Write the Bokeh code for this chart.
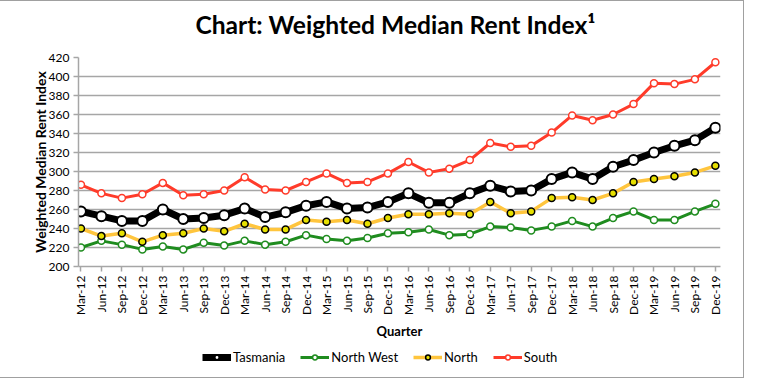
import math
from bokeh.plotting import figure
from bokeh.layouts import column
from bokeh.models import Range1d, FixedTicker, Legend, LegendItem, ColumnDataSource, Label
from bokeh.embed import file_html
from bokeh.resources import INLINE

quarters = ["Mar-12", "Jun-12", "Sep-12", "Dec-12", "Mar-13", "Jun-13", "Sep-13", "Dec-13",
            "Mar-14", "Jun-14", "Sep-14", "Dec-14", "Mar-15", "Jun-15", "Sep-15", "Dec-15",
            "Mar-16", "Jun-16", "Sep-16", "Dec-16", "Mar-17", "Jun-17", "Sep-17", "Dec-17",
            "Mar-18", "Jun-18", "Sep-18", "Dec-18", "Mar-19", "Jun-19", "Sep-19", "Dec-19"]

tasmania = [258, 253, 248, 248, 260, 250, 251, 254, 261, 252, 257, 264, 268, 261, 262, 268,
            277, 267, 267, 277, 285, 279, 280, 292, 299, 292, 305, 312, 320, 327, 333, 346]
north_west = [220, 227, 223, 218, 221, 218, 225, 222, 227, 223, 226, 233, 229, 227, 230, 235,
              236, 239, 233, 234, 242, 241, 238, 242, 248, 242, 251, 258, 249, 249, 258, 266]
north = [240, 232, 235, 226, 233, 235, 240, 237, 245, 239, 239, 249, 247, 249, 245, 251,
         255, 255, 256, 255, 268, 256, 258, 272, 273, 270, 277, 289, 292, 295, 299, 306]
south = [286, 277, 272, 276, 288, 275, 276, 280, 294, 281, 280, 289, 298, 288, 289, 298,
         310, 299, 303, 312, 330, 326, 327, 341, 359, 354, 360, 371, 393, 392, 397, 415]

y_ticks = [200, 220, 240, 260, 280, 300, 320, 340, 360, 380, 400, 420]

TITLE = "Chart: Weighted Median Rent Index\u00b9"
FONT = "Lato"
GRID = "#a6a6a6"
W = 747

xs = list(range(len(quarters)))


def strip(height):
    f = figure(width=W, height=height, output_backend="svg", toolbar_location=None,
               x_axis_type=None, y_axis_type=None, x_range=Range1d(0, 1), y_range=Range1d(0, 1),
               min_border=0, min_border_left=0, min_border_right=0,
               min_border_top=0, min_border_bottom=0)
    f.outline_line_color = None
    f.grid.visible = False
    f.background_fill_color = "white"
    f.border_fill_color = "white"
    return f


# title strip
tf = strip(44)
tf.add_layout(Label(x=317, y=21, x_units="screen", y_units="screen", text=TITLE,
                    text_align="center", text_baseline="middle", text_font=FONT,
                    text_font_size="24.6px", text_font_style="bold", text_color="black"))

# main chart
p = figure(width=W, height=296, output_backend="svg", toolbar_location=None,
           x_range=Range1d(-0.12, 31.25), y_range=Range1d(200, 420),
           min_border_left=82, min_border_right=23, min_border_top=12, min_border_bottom=75)
p.outline_line_color = None
p.background_fill_color = "white"
p.border_fill_color = "white"

p.xgrid.visible = False
p.ygrid.grid_line_color = GRID
p.ygrid.grid_line_width = 1.5
p.ygrid.ticker = FixedTicker(ticks=y_ticks)

p.xaxis.ticker = FixedTicker(ticks=xs)
p.xaxis.major_label_overrides = {i: q for i, q in enumerate(quarters)}
p.xaxis.major_label_orientation = math.pi / 2
p.yaxis.ticker = FixedTicker(ticks=y_ticks)

for ax in (p.xaxis[0], p.yaxis[0]):
    ax.axis_line_color = GRID
    ax.axis_line_width = 1.5
    ax.major_tick_line_color = GRID
    ax.major_tick_line_width = 1.5
    ax.major_tick_out = 5
    ax.major_tick_in = 0
    ax.minor_tick_line_color = None
    ax.major_label_text_font = FONT
    ax.major_label_text_font_size = "12px"
    ax.major_label_text_color = "black"
    ax.axis_label_text_font = FONT
    ax.axis_label_text_font_style = "bold"
    ax.axis_label_text_color = "black"

p.xaxis.axis_label = "Quarter"
p.yaxis.axis_label = "Weighted Median Rent Index"
p.xaxis.axis_label_text_font_size = "13px"
p.yaxis.axis_label_text_font_size = "14px"
p.xaxis.major_label_standoff = 4
p.yaxis.major_label_standoff = 4
p.xaxis.axis_label_standoff = 5
p.yaxis.axis_label_standoff = -3

series = [
    ("Tasmania", tasmania, "black", 7, "white", "black", 10, 2),
    ("North West", north_west, "#1f8c1f", 3, "white", "#1f8c1f", 7, 1.5),
    ("North", north, "#ffc53d", 3.5, "#e6e000", "black", 7, 1.5),
    ("South", south, "#ff3b2a", 3, "white", "#ff3b2a", 7, 1.5),
]

# legend strip
lg = strip(36)

items = []
for name, vals, lc, lw, mf, ml, ms, mlw in series:
    src = ColumnDataSource(dict(x=xs, y=vals))
    p.line("x", "y", source=src, line_color=lc, line_width=lw, line_join="round")
    p.scatter("x", "y", source=src, marker="circle", size=ms, fill_color=mf,
              line_color=ml, line_width=mlw)
    # same data in the legend strip: it falls outside that strip's ranges, only the key shows
    r1 = lg.line("x", "y", source=src, line_color=lc, line_width=lw)
    r2 = lg.scatter("x", "y", source=src, marker="circle", size=ms, fill_color=mf,
                    line_color=ml, line_width=mlw)
    items.append(LegendItem(label=name, renderers=[r1, r2]))

legend = Legend(items=items, orientation="horizontal", location=(124, 12),
                label_text_font=FONT, label_text_font_size="13px", label_text_color="black",
                glyph_width=29, glyph_height=12, label_standoff=2, spacing=15,
                padding=0, margin=0, border_line_color=None, background_fill_alpha=0)
lg.add_layout(legend, "center")

layout = column(tf, p, lg, spacing=0)
layout.styles = {"border": "1px solid #a0a0a0", "margin-left": "-5px"}

open("out.html", "w").write(file_html(layout, INLINE))
